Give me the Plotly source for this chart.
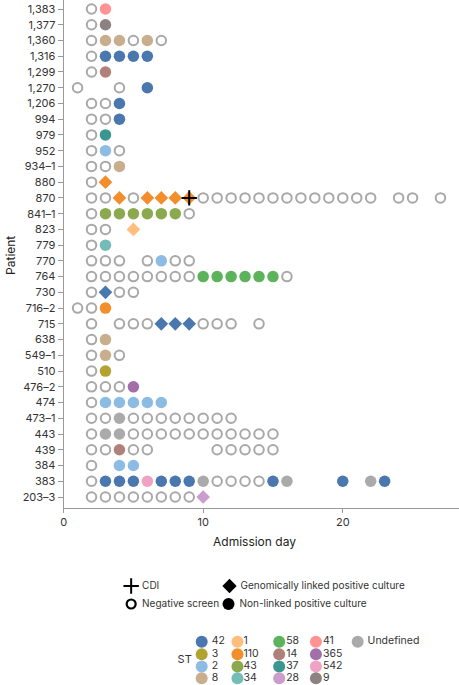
import plotly.graph_objects as go

# ---------------- data ----------------
patients = ["1,383", "1,377", "1,360", "1,316", "1,299", "1,270", "1,206", "994",
            "979", "952", "934\u20131", "880", "870", "841\u20131", "823", "779",
            "770", "764", "730", "716\u20132", "715", "638", "549\u20131", "510",
            "476\u20132", "474", "473\u20131", "443", "439", "384", "383", "203\u20133"]

# negative screen days per patient (same order as patients)
negative_days = [
    [2], [2], [2, 5, 7], [2], [2], [1, 4], [2, 3], [2, 3],
    [2], [2, 4], [2, 3], [2],
    [2, 3, 5, 10, 11, 12, 13, 14, 15, 16, 17, 18, 19, 20, 21, 22, 24, 25, 27],
    [2, 9], [2, 3], [2],
    [2, 3, 4, 6, 8, 9], [2, 3, 4, 5, 6, 7, 8, 9, 16], [2, 4, 5], [1, 2],
    [2, 4, 5, 6, 10, 11, 12, 14], [2], [2, 4], [2],
    [2, 3, 4], [2], [2, 3, 5, 6, 7, 8, 9, 10, 11, 12],
    [2, 5, 6, 7, 8, 9, 10, 11, 12, 13, 14, 15],
    [2, 3, 5, 6, 11, 12, 13, 14, 15], [2], [2, 11, 12, 13, 14],
    [2, 3, 4, 5, 6, 7, 8, 9],
]

# positive cultures: patient, day, sequence type, genomically linked
pos_patient = ["1,383", "1,377", "1,360", "1,360", "1,360",
               "1,316", "1,316", "1,316", "1,316", "1,299", "1,270", "1,206", "994",
               "979", "952", "934\u20131", "880",
               "870", "870", "870", "870", "870",
               "841\u20131", "841\u20131", "841\u20131", "841\u20131", "841\u20131", "841\u20131",
               "823", "779", "770",
               "764", "764", "764", "764", "764", "764",
               "730", "716\u20132", "715", "715", "715", "638", "549\u20131", "510",
               "476\u20132", "474", "474", "474", "474", "474",
               "473\u20131", "443", "443", "439", "384", "384",
               "383", "383", "383", "383", "383", "383", "383", "383", "383", "383",
               "383", "383", "383", "203\u20133"]
pos_day = [3, 3, 3, 4, 6,
           3, 4, 5, 6, 3, 6, 4, 4,
           3, 3, 4, 3,
           4, 6, 7, 8, 9,
           3, 4, 5, 6, 7, 8,
           5, 3, 7,
           10, 11, 12, 13, 14, 15,
           3, 3, 7, 8, 9, 3, 3, 3,
           5, 3, 4, 5, 6, 7,
           4, 3, 4, 4, 4, 5,
           3, 4, 5, 6, 7, 8, 9, 10, 15, 16,
           20, 22, 23, 10]
pos_st = ["41", "9", "8", "8", "8",
          "42", "42", "42", "42", "14", "42", "42", "42",
          "37", "2", "8", "110",
          "110", "110", "110", "110", "110",
          "43", "43", "43", "43", "43", "43",
          "1", "34", "2",
          "58", "58", "58", "58", "58", "58",
          "42", "110", "42", "42", "42", "8", "8", "3",
          "365", "2", "2", "2", "2", "2",
          "Undefined", "Undefined", "Undefined", "14", "2", "2",
          "42", "42", "42", "542", "42", "42", "42", "Undefined", "42", "Undefined",
          "42", "Undefined", "42", "28"]
pos_linked = [False, False, False, False, False,
              False, False, False, False, False, False, False, False,
              False, False, False, True,
              True, True, True, True, True,
              False, False, False, False, False, False,
              True, False, False,
              False, False, False, False, False, False,
              True, False, True, True, True, False, False, False,
              False, False, False, False, False, False,
              False, False, False, False, False, False,
              False, False, False, False, False, False, False, False, False, False,
              False, False, False, True]

# CDI events
cdi_patient = ["870"]
cdi_day = [9]

# sequence-type legend (column-major)
st_columns = [["42", "3", "2", "8"], ["1", "110", "43", "34"],
              ["58", "14", "37", "28"], ["41", "365", "542", "9"], ["Undefined"]]
st_colors = {
    "42": "#4A78AE", "3": "#B2A22F", "2": "#8CBCE4", "8": "#C9AE8D",
    "1": "#FFBE7D", "110": "#F28E2B", "43": "#8BAA4F", "34": "#74BDB7",
    "58": "#5CB35B", "14": "#B0817B", "37": "#3A9690", "28": "#CB9DCA",
    "41": "#FF9294", "365": "#A26FA8", "542": "#F0A2C2", "9": "#8C8282",
    "Undefined": "#AAAAAA",
}

# ---------------- figure ----------------
W, H = 459, 685
n = len(patients)
ypos = {p: n - 1 - i for i, p in enumerate(patients)}
TXT = "#333333"

fig = go.Figure()

neg_x, neg_y = [], []
for p, days in zip(patients, negative_days):
    for d in days:
        neg_x.append(d)
        neg_y.append(ypos[p])

fig.add_trace(go.Scatter(x=neg_x, y=neg_y, mode="markers", cliponaxis=False,
                         marker=dict(symbol="circle-open", size=9.5, color="#A8A8A8",
                                     line=dict(color="#A8A8A8", width=2)),
                         showlegend=False, hoverinfo="skip"))

nl = [i for i in range(len(pos_day)) if not pos_linked[i]]
lk = [i for i in range(len(pos_day)) if pos_linked[i]]
fig.add_trace(go.Scatter(x=[pos_day[i] for i in nl], y=[ypos[pos_patient[i]] for i in nl],
                         mode="markers", cliponaxis=False,
                         marker=dict(symbol="circle", size=11.5,
                                     color=[st_colors[pos_st[i]] for i in nl],
                                     line=dict(width=0)),
                         showlegend=False))
fig.add_trace(go.Scatter(x=[pos_day[i] for i in lk], y=[ypos[pos_patient[i]] for i in lk],
                         mode="markers", cliponaxis=False,
                         marker=dict(symbol="diamond", size=10.5,
                                     color=[st_colors[pos_st[i]] for i in lk],
                                     line=dict(width=0)),
                         showlegend=False))
fig.add_trace(go.Scatter(x=cdi_day, y=[ypos[p] for p in cdi_patient], mode="markers",
                         cliponaxis=False,
                         marker=dict(symbol="cross-thin", size=11, color="black",
                                     line=dict(color="black", width=2)),
                         showlegend=False))

# ---- legend drawn on an overlay axis in pixel units ----
leg_sym = [("cross-thin", 129, 586, "CDI"),
           ("diamond", 228, 586, "Genomically linked positive culture"),
           ("circle-open", 129, 604, "Negative screen"),
           ("circle", 227, 604, "Non-linked positive culture")]
for sym, lx, ly, lab in leg_sym:
    if sym == "cross-thin":
        mk = dict(symbol=sym, size=11, color="black", line=dict(color="black", width=2))
    elif sym == "circle-open":
        mk = dict(symbol=sym, size=9, color="black", line=dict(color="black", width=2.2))
    elif sym == "diamond":
        mk = dict(symbol=sym, size=11, color="black")
    else:
        mk = dict(symbol=sym, size=12, color="black")
    fig.add_trace(go.Scatter(x=[lx], y=[ly], xaxis="x2", yaxis="y2", mode="markers",
                             marker=mk, cliponaxis=False, showlegend=False, hoverinfo="skip"))
    fig.add_trace(go.Scatter(x=[lx + 11], y=[ly], xaxis="x2", yaxis="y2", mode="text",
                             text=[lab], textposition="middle right", cliponaxis=False,
                             textfont=dict(size=10, color=TXT),
                             showlegend=False, hoverinfo="skip"))

col_x = [200, 236, 278, 315, 357]
lab_x = [210, 242, 285, 322, 367]
row_y = [641.7, 654.2, 666.6, 678.3]
for ci, col in enumerate(st_columns):
    fig.add_trace(go.Scatter(x=[col_x[ci]] * len(col), y=row_y[:len(col)], xaxis="x2", yaxis="y2",
                             mode="markers", cliponaxis=False,
                             marker=dict(symbol="circle", size=12,
                                         color=[st_colors[s] for s in col]),
                             showlegend=False, hoverinfo="skip"))
    fig.add_trace(go.Scatter(x=[lab_x[ci]] * len(col), y=row_y[:len(col)], xaxis="x2", yaxis="y2",
                             mode="text", text=col, textposition="middle right",
                             cliponaxis=False, textfont=dict(size=10.5, color=TXT),
                             showlegend=False, hoverinfo="skip"))
fig.add_trace(go.Scatter(x=[190], y=[660.5], xaxis="x2", yaxis="y2", mode="text",
                         text=["ST"], textposition="middle left", cliponaxis=False,
                         textfont=dict(size=11, color=TXT), showlegend=False, hoverinfo="skip"))

# titles as annotations
fig.add_annotation(x=253, y=541, xref="x2", yref="y2", text="Admission day", showarrow=False,
                   xanchor="center", yanchor="middle", font=dict(size=12, color="#222222"))
fig.add_annotation(x=7, y=255, xref="x2", yref="y2", text="Patient", showarrow=False,
                   textangle=-90, xanchor="center", yanchor="middle",
                   font=dict(size=12, color="#222222"))

x_left, x_right = 61, 459
y_top, y_axis = 0, 508
px_per_day = 14.05
row_step = 15.74
fig.update_layout(
    width=W, height=H,
    margin=dict(l=0, r=0, t=0, b=0),
    paper_bgcolor="white", plot_bgcolor="rgba(0,0,0,0)",
    font=dict(family="Inter, Lato, sans-serif", size=11, color=TXT),
    xaxis=dict(domain=[x_left / W, x_right / W],
               range=[0, (x_right - x_left) / px_per_day],
               tickvals=[0, 10, 20], ticks="outside", ticklen=4, tickcolor="#999999",
               showline=True, linecolor="#999999", linewidth=1, showgrid=False,
               zeroline=False, tickfont=dict(size=11, color=TXT), anchor="y"),
    yaxis=dict(domain=[1 - y_axis / H, 1 - y_top / H],
               range=[-(y_axis - 497) / row_step, n - 1 + (9 - y_top) / row_step],
               tickvals=[ypos[p] for p in patients], ticktext=patients,
               ticks="outside", ticklen=5, tickcolor="#999999",
               showline=True, linecolor="#999999", linewidth=1, showgrid=False,
               zeroline=False, tickfont=dict(size=11, color=TXT), anchor="x"),
    xaxis2=dict(domain=[0, 1], range=[0, W], visible=False, fixedrange=True, anchor="y2"),
    yaxis2=dict(domain=[0, 1], range=[H, 0], visible=False, fixedrange=True, anchor="x2"),
)

fig.write_html("out.html", config={"displayModeBar": False},
               post_script="document.body.style.margin='0';document.body.style.overflow='hidden';")
